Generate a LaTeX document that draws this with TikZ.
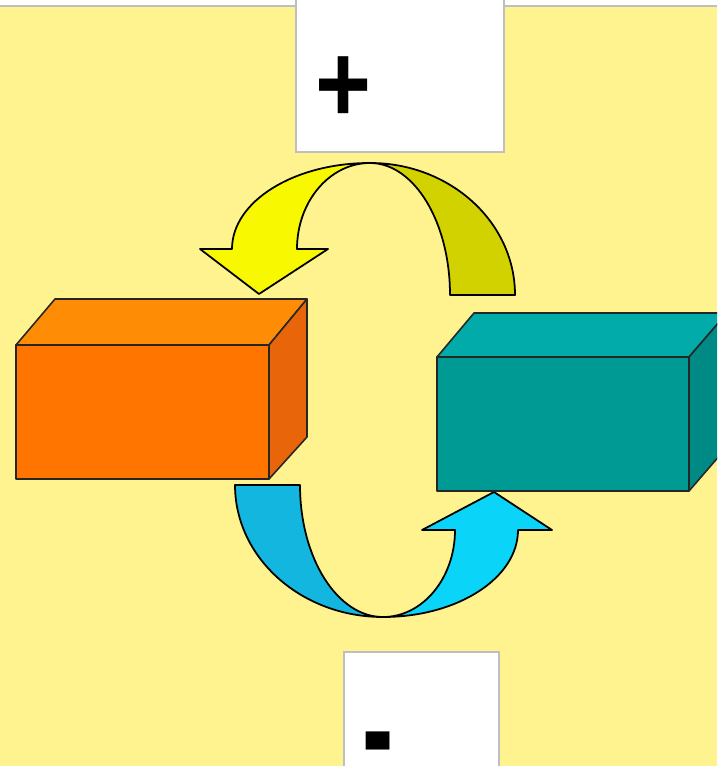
\documentclass[tikz,border=0pt]{standalone}
\usepackage{fontspec}
\setmainfont{Liberation Sans}
\definecolor{bgyellow}{HTML}{FFF38F}
\definecolor{orfront}{HTML}{FF7500}
\definecolor{ortop}{HTML}{FF8C05}
\definecolor{orside}{HTML}{E8650A}
\definecolor{tlfront}{HTML}{009A94}
\definecolor{tltop}{HTML}{00ABAA}
\definecolor{tlside}{HTML}{008A85}
\definecolor{ylight}{HTML}{F8F800}
\definecolor{ydark}{HTML}{D2D200}
\definecolor{blight}{HTML}{0AD4F8}
\definecolor{bdark}{HTML}{12B6DE}
\tikzset{
  face/.style={draw=black!85, line width=0.9pt, line join=round},
  arrowpart/.style={draw=black, line width=1pt, line join=round},
  signbox/.style={fill=white, draw=black!25, line width=0.6pt},
  signtext/.style={font=\fontsize{62}{62}\selectfont\bfseries, inner sep=0pt},
}
\begin{document}
\begin{tikzpicture}[x=0.02cm, y=-0.02cm]
\useasboundingbox (0,0) rectangle (717,766);
\fill[white] (0,0) rectangle (717,766);
\fill[bgyellow] (0,6) rectangle (717,766);
\draw[black!25, line width=0.6pt] (0,6) -- (717,6);

% sign boxes
\draw[signbox] (296,-2) rectangle (504,152);
\node[signtext, xscale=0.88, yscale=1.03] (plus) at (343,90) {+};
\draw[signbox] (344,652) rectangle (499,770);
\node[signtext, xscale=0.86, yscale=1.4] (minus) at (378,756) {-};

% yellow curved arrow (top)
\draw[arrowpart, fill=ydark] (370,163) arc[start angle=-90, end angle=0, x radius=145, y radius=132]
  -- (450,295) arc[start angle=0, end angle=-90, x radius=80, y radius=132] -- cycle;
\draw[arrowpart, fill=ylight] (370,163) arc[start angle=-90, end angle=-180, x radius=138, y radius=86]
  -- (200,249) -- (259,294) -- (328,249) -- (297,249)
  arc[start angle=-180, end angle=-90, x radius=73, y radius=86] -- cycle;

% blue curved arrow (bottom)
\draw[arrowpart, fill=bdark] (235,485) arc[start angle=180, end angle=90, x radius=148, y radius=132]
  arc[start angle=90, end angle=180, x radius=83, y radius=132] -- cycle;
\draw[arrowpart, fill=blight] (383,617) arc[start angle=90, end angle=0, x radius=135, y radius=87]
  -- (552,530) -- (494,492) -- (422,530) -- (455,530)
  arc[start angle=0, end angle=90, x radius=72, y radius=87] -- cycle;

% orange box
\draw[face, fill=ortop] (16,345) -- (55,299) -- (307,299) -- (269,345) -- cycle;
\draw[face, fill=orside] (269,345) -- (307,299) -- (307,437) -- (269,479) -- cycle;
\draw[face, fill=orfront] (16,345) rectangle (269,479);

% teal box
\begin{scope}
\clip (0,0) rectangle (717,766);
\draw[face, fill=tltop] (437,357) -- (474,313) -- (727,313) -- (689,357) -- cycle;
\draw[face, fill=tlside] (689,357) -- (727,313) -- (727,447) -- (689,491) -- cycle;
\draw[face, fill=tlfront] (437,357) rectangle (689,491);
\end{scope}
\end{tikzpicture}
\end{document}
